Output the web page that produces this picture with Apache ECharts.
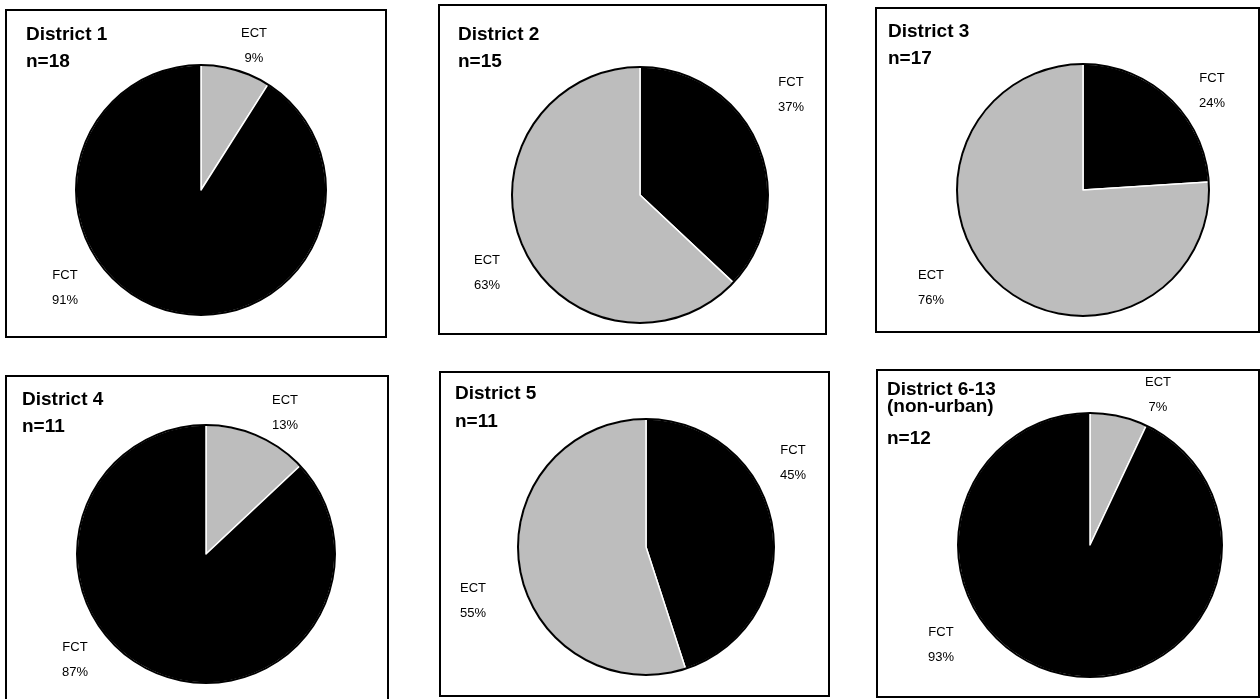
<!DOCTYPE html>
<html>
<head>
<meta charset="utf-8">
<script src="https://cdn.jsdelivr.net/npm/echarts@6/dist/echarts.min.js"></script>
<style>
  html, body { margin: 0; padding: 0; background: #fff; }
  #chart { width: 1260px; height: 699px; }
</style>
</head>
<body>
<div id="chart"></div>
<script>
// Share of ECT vs FCT cases per district (percent)
const districts = ['District 1', 'District 2', 'District 3', 'District 4', 'District 5', 'District 6-13'];
const districtNotes = ['', '', '', '', '', '(non-urban)'];
const sampleSizes = [18, 15, 17, 11, 11, 12];
const ectShares = [9, 63, 76, 13, 55, 7];
const fctShares = [91, 37, 24, 87, 45, 93];

const sliceColors = { ECT: '#bdbdbd', FCT: '#000000' };

// Panel layout: frame, pie centre/radius, heading and slice-label anchors
const panels = [
  { box: [6, 10, 380, 327],  center: [201, 190], r: 125, head: [26, 28],  noteY: null, nY: 55,  lab: { ECT: [254, 28],  FCT: [65, 270] } },
  { box: [439, 5, 387, 329], center: [640, 195], r: 128, head: [458, 28], noteY: null, nY: 55,  lab: { FCT: [791, 77],  ECT: [487, 255] } },
  { box: [876, 8, 383, 324], center: [1083, 190], r: 126, head: [888, 25], noteY: null, nY: 52, lab: { FCT: [1212, 73], ECT: [931, 270] } },
  { box: [6, 376, 382, 330], center: [206, 554], r: 129, head: [22, 393], noteY: null, nY: 420, lab: { ECT: [285, 395], FCT: [75, 642] } },
  { box: [440, 372, 389, 324], center: [646, 547], r: 128, head: [455, 387], noteY: null, nY: 415, lab: { FCT: [793, 445], ECT: [473, 583] } },
  { box: [877, 370, 382, 327], center: [1090, 545], r: 132, head: [887, 383], noteY: 400, nY: 432, lab: { ECT: [1158, 377], FCT: [941, 627] } }
];

const FONT = "'Liberation Sans', Arial, Helvetica, sans-serif";
const series = [];
const graphic = [];

panels.forEach((p, i) => {
  const slices = [
    { name: 'ECT', value: ectShares[i] },
    { name: 'FCT', value: fctShares[i] }
  ].sort((a, b) => a.value - b.value);

  // slices, smallest first, clockwise from twelve o'clock, with white dividing lines
  series.push({
    type: 'pie', silent: true, z: 2,
    center: p.center, radius: p.r,
    startAngle: 90, clockwise: true,
    label: { show: false }, labelLine: { show: false },
    itemStyle: { borderColor: '#fff', borderWidth: 1.5 },
    data: slices.map(s => ({ name: s.name, value: s.value, itemStyle: { color: sliceColors[s.name] } }))
  });
  // thin black outline round the whole pie
  series.push({
    type: 'pie', silent: true, z: 3,
    center: p.center, radius: [p.r - 1, p.r + 1],
    label: { show: false }, labelLine: { show: false },
    data: [{ value: 1, itemStyle: { color: '#000' } }]
  });

  // frame
  graphic.push({
    type: 'rect', z: 10, silent: true,
    shape: { x: p.box[0], y: p.box[1], width: p.box[2], height: p.box[3] },
    style: { fill: 'none', stroke: '#000', lineWidth: 2 }
  });

  // heading lines
  const headStyle = { font: 'bold 19px ' + FONT, fill: '#000', align: 'left', verticalAlign: 'middle' };
  graphic.push({ type: 'text', z: 11, silent: true, x: p.head[0], y: p.head[1] + 7,
    style: Object.assign({ text: districts[i] }, headStyle) });
  if (districtNotes[i]) {
    graphic.push({ type: 'text', z: 11, silent: true, x: p.head[0], y: p.noteY + 7,
      style: Object.assign({ text: districtNotes[i] }, headStyle) });
  }
  graphic.push({ type: 'text', z: 11, silent: true, x: p.head[0], y: p.nY + 7,
    style: Object.assign({ text: 'n=' + sampleSizes[i] }, headStyle) });

  // slice labels
  slices.forEach(s => {
    const a = p.lab[s.name];
    const st = { font: '13px ' + FONT, fill: '#000', align: 'center', verticalAlign: 'middle' };
    graphic.push({ type: 'text', z: 11, silent: true, x: a[0], y: a[1] + 5,
      style: Object.assign({ text: s.name }, st) });
    graphic.push({ type: 'text', z: 11, silent: true, x: a[0], y: a[1] + 30,
      style: Object.assign({ text: s.value + '%' }, st) });
  });
});

const chart = echarts.init(document.getElementById('chart'), null, { renderer: 'canvas' });
chart.setOption({
  animation: false,
  backgroundColor: '#fff',
  series: series,
  graphic: graphic
});
</script>
</body>
</html>
